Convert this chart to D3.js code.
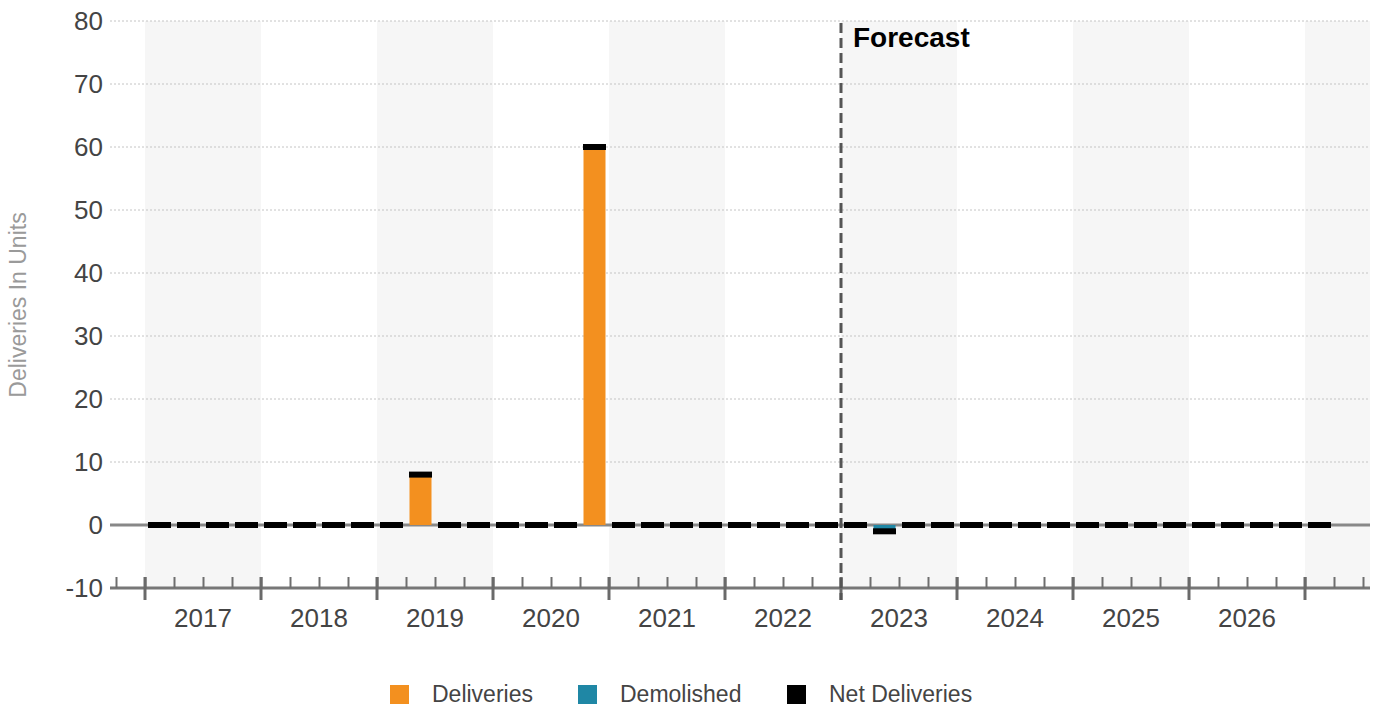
<!DOCTYPE html>
<html>
<head>
    <title>Deliveries</title>
    <style>
        body { margin: 0; background: #fff; font-family: "Liberation Sans", Arial, sans-serif; }
    </style>
    <script src="https://d3js.org/d3.v7.min.js"></script>
</head>
<body>
    <div id="chart"></div>

    <script>
// quarters 2017 Q1 .. 2027 Q1
var quarters = [
    '2017 Q1','2017 Q2','2017 Q3','2017 Q4',
    '2018 Q1','2018 Q2','2018 Q3','2018 Q4',
    '2019 Q1','2019 Q2','2019 Q3','2019 Q4',
    '2020 Q1','2020 Q2','2020 Q3','2020 Q4',
    '2021 Q1','2021 Q2','2021 Q3','2021 Q4',
    '2022 Q1','2022 Q2','2022 Q3','2022 Q4',
    '2023 Q1','2023 Q2','2023 Q3','2023 Q4',
    '2024 Q1','2024 Q2','2024 Q3','2024 Q4',
    '2025 Q1','2025 Q2','2025 Q3','2025 Q4',
    '2026 Q1','2026 Q2','2026 Q3','2026 Q4',
    '2027 Q1'
];
var deliveries = [
    0, 0, 0, 0,
    0, 0, 0, 0,
    0, 8, 0, 0,
    0, 0, 0, 60,
    0, 0, 0, 0,
    0, 0, 0, 0,
    0, 0, 0, 0,
    0, 0, 0, 0,
    0, 0, 0, 0,
    0, 0, 0, 0,
    0
];
var demolished = [
    0, 0, 0, 0,
    0, 0, 0, 0,
    0, 0, 0, 0,
    0, 0, 0, 0,
    0, 0, 0, 0,
    0, 0, 0, 0,
    0, -1, 0, 0,
    0, 0, 0, 0,
    0, 0, 0, 0,
    0, 0, 0, 0,
    0
];
var netDeliveries = [
    0, 0, 0, 0,
    0, 0, 0, 0,
    0, 8, 0, 0,
    0, 0, 0, 60,
    0, 0, 0, 0,
    0, 0, 0, 0,
    0, -1, 0, 0,
    0, 0, 0, 0,
    0, 0, 0, 0,
    0, 0, 0, 0,
    0
];
var years = ['2017','2018','2019','2020','2021','2022','2023','2024','2025','2026','2027'];
var yTicks = [-10, 0, 10, 20, 30, 40, 50, 60, 70, 80];
var forecastStart = '2023 Q1';

var legendItems = [
    { name: 'Deliveries', color: '#f3901f' },
    { name: 'Demolished', color: '#1f87a5' },
    { name: 'Net Deliveries', color: '#000000' }
];

var width = 1383, height = 713;
var svg = d3.select('#chart').append('svg')
    .attr('width', width)
    .attr('height', height)
    .style('font-family', '"Liberation Sans", Arial, sans-serif');

// x in quarter units: 0 = start of 2017 Q1
var x = d3.scaleLinear().domain([0, 40]).range([145, 1305]);
var y = d3.scaleLinear().domain([-10, 80]).range([588, 21]);
var qIndex = function(q) { return quarters.indexOf(q); };

// alternating year bands
svg.append('g').selectAll('rect')
    .data(years.filter(function(d, i) { return i % 2 === 0; }))
    .enter().append('rect')
    .attr('x', function(d) { return x((+d - 2017) * 4); })
    .attr('y', y(80))
    .attr('width', function(d) { return Math.min(x((+d - 2017) * 4 + 4), 1370) - x((+d - 2017) * 4); })
    .attr('height', y(-10) - y(80))
    .attr('fill', '#f6f6f6');

// grid
svg.append('g').selectAll('line')
    .data(yTicks.filter(function(d) { return d > 0; }))
    .enter().append('line')
    .attr('x1', 110).attr('x2', 1370)
    .attr('y1', function(d) { return y(d); })
    .attr('y2', function(d) { return y(d); })
    .attr('stroke', '#c4c4c4')
    .attr('stroke-width', 1)
    .attr('stroke-dasharray', '2,2');

// zero line
svg.append('line')
    .attr('x1', 110).attr('x2', 1370)
    .attr('y1', y(0)).attr('y2', y(0))
    .attr('stroke', '#888').attr('stroke-width', 3);

var barW = 22;

svg.append('g').selectAll('rect')
    .data(deliveries)
    .enter().append('rect')
    .attr('x', function(d, i) { return x(i + 0.5) - barW / 2; })
    .attr('y', function(d) { return y(Math.max(d, 0)); })
    .attr('width', barW)
    .attr('height', function(d) { return Math.abs(y(0) - y(d)); })
    .attr('fill', legendItems[0].color);

svg.append('g').selectAll('rect')
    .data(demolished)
    .enter().append('rect')
    .attr('x', function(d, i) { return x(i + 0.5) - barW / 2; })
    .attr('y', function(d) { return y(Math.max(d, 0)); })
    .attr('width', barW)
    .attr('height', function(d) { return Math.abs(y(0) - y(d)); })
    .attr('fill', legendItems[1].color);

// net deliveries markers
svg.append('g').selectAll('rect')
    .data(netDeliveries)
    .enter().append('rect')
    .attr('x', function(d, i) { return x(i + 0.5) - 11.5; })
    .attr('y', function(d) { return y(d) - 3; })
    .attr('width', 23)
    .attr('height', 6)
    .attr('fill', '#000');

// x axis
var axisY = y(-10);
svg.append('line')
    .attr('x1', 110).attr('x2', 1370)
    .attr('y1', axisY).attr('y2', axisY)
    .attr('stroke', '#777').attr('stroke-width', 3);

var minorAxis = d3.axisBottom(x)
    .tickValues(d3.range(-1, 43))
    .tickSize(-11)
    .tickFormat('');
svg.append('g')
    .attr('transform', 'translate(0,' + axisY + ')')
    .call(minorAxis)
    .call(function(g) {
        g.select('.domain').remove();
        g.selectAll('line').attr('stroke', '#6e6e6e').attr('stroke-width', 2);
    });

svg.append('g').selectAll('line')
    .data(years)
    .enter().append('line')
    .attr('x1', function(d) { return x((+d - 2017) * 4); })
    .attr('x2', function(d) { return x((+d - 2017) * 4); })
    .attr('y1', axisY - 11).attr('y2', axisY + 12)
    .attr('stroke', '#6a6a6a').attr('stroke-width', 3);

svg.append('g').selectAll('text')
    .data(years.slice(0, 10))
    .enter().append('text')
    .attr('x', function(d) { return x((+d - 2017) * 4 + 2); })
    .attr('y', 627)
    .attr('text-anchor', 'middle')
    .attr('font-size', 26)
    .attr('fill', '#444')
    .text(function(d) { return d; });

// y labels
svg.append('g').selectAll('text')
    .data(yTicks)
    .enter().append('text')
    .attr('x', 103)
    .attr('y', function(d) { return y(d) + 9; })
    .attr('text-anchor', 'end')
    .attr('font-size', 26)
    .attr('fill', '#444')
    .text(function(d) { return d; });

svg.append('text')
    .attr('transform', 'rotate(-90)')
    .attr('x', -305)
    .attr('y', 26)
    .attr('text-anchor', 'middle')
    .attr('font-size', 23)
    .attr('fill', '#9a9a9a')
    .text('Deliveries In Units');

// forecast marker
var fx = x(qIndex(forecastStart));
svg.append('line')
    .attr('x1', fx).attr('x2', fx)
    .attr('y1', 23).attr('y2', 600)
    .attr('stroke', '#555').attr('stroke-width', 3)
    .attr('stroke-dasharray', '10,5');

svg.append('text')
    .attr('x', fx + 12)
    .attr('y', 47)
    .attr('font-size', 28)
    .attr('font-weight', 'bold')
    .attr('fill', '#000')
    .text('Forecast');

// legend
var legendX = [390, 578, 787];
var legend = svg.append('g').selectAll('g')
    .data(legendItems)
    .enter().append('g')
    .attr('transform', function(d, i) { return 'translate(' + legendX[i] + ',685)'; });
legend.append('rect')
    .attr('width', 19).attr('height', 19)
    .attr('fill', function(d) { return d.color; });
legend.append('text')
    .attr('x', 42)
    .attr('y', 17)
    .attr('font-size', 23)
    .attr('fill', '#444')
    .text(function(d) { return d.name; });
    </script>
</body>
</html>
